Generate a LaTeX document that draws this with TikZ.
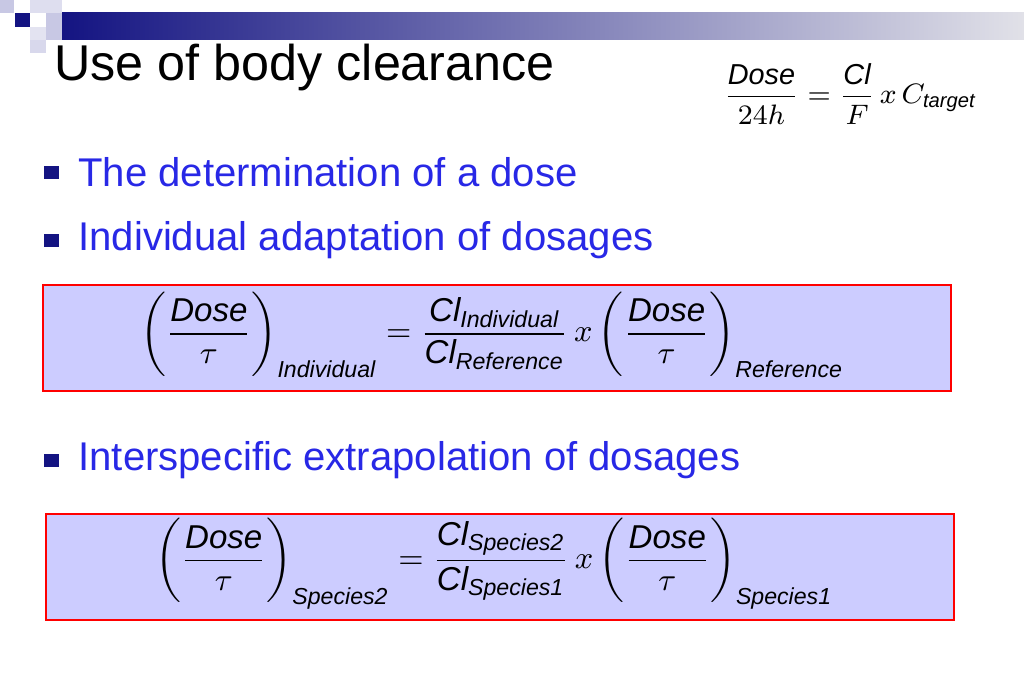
\documentclass[tikz,border=0pt]{standalone}
\usepackage{fontspec}
\setmainfont{Liberation Sans}
\definecolor{navy}{RGB}{20,20,130}
\definecolor{barend}{RGB}{225,225,232}
\definecolor{sqlight}{RGB}{200,200,228}
\definecolor{boxfill}{RGB}{204,204,255}
\definecolor{textblue}{RGB}{40,40,230}
\tikzset{
  bullet/.style={anchor=west, text=textblue, font=\fontsize{11.4}{13}\selectfont},
  formbox/.style={draw=red, fill=boxfill, line width=0.6pt},
  formula/.style={font=\fontsize{9.4}{11}\selectfont}
}
\begin{document}
\begin{tikzpicture}[x=0.01cm,y=-0.01cm]
\useasboundingbox (0,0) rectangle (1024,683);
% header bar
\shade[left color=navy, right color=barend] (62,13) rectangle (1024,40);
\fill[sqlight] (0,0) rectangle (14,13);
\fill[navy] (15,13) rectangle (30,27);
\fill[sqlight!60] (30,0) rectangle (62,13);
\fill[sqlight] (46,13) rectangle (62,27);
\fill[sqlight] (46,27) rectangle (62,40);
\fill[sqlight!70] (30,40) rectangle (46,53);
\fill[sqlight!50] (30,27) rectangle (46,40);
% title
\node[anchor=west, font=\fontsize{14.3}{16}\selectfont] (title) at (42,68) {Use of body clearance};
\node[formula, font=\fontsize{8.2}{10}\selectfont] (target) at (850,94)
  {$\displaystyle\frac{\mathit{Dose}}{24h} = \frac{\mathit{Cl}}{F}\,x\,C_{\mathit{target}}$};
% bullets
\foreach \y/\t [count=\i] in {172/The determination of a dose, 240/Individual adaptation of dosages, 460/Interspecific extrapolation of dosages} {
  \fill[navy] (44,\y-6) rectangle ++(15,13);
  \node[bullet] (item\i) at (66,\y) {\t};
}
% formula boxes
\draw[formbox] (43,285) rectangle (951,391);
\node[formula] (indiv) at (492,335)
  {$\displaystyle\left(\frac{\mathit{Dose}}{\tau}\right)_{\mathit{Individual}} = \frac{\mathit{Cl}_{\mathit{Individual}}}{\mathit{Cl}_{\mathit{Reference}}}\,x\left(\frac{\mathit{Dose}}{\tau}\right)_{\mathit{Reference}}$};
\draw[formbox] (46,514) rectangle (954,620);
\node[formula] (spec) at (494,564)
  {$\displaystyle\left(\frac{\mathit{Dose}}{\tau}\right)_{\mathit{Species2}} = \frac{\mathit{Cl}_{\mathit{Species2}}}{\mathit{Cl}_{\mathit{Species1}}}\,x\left(\frac{\mathit{Dose}}{\tau}\right)_{\mathit{Species1}}$};
\end{tikzpicture}
\end{document}
